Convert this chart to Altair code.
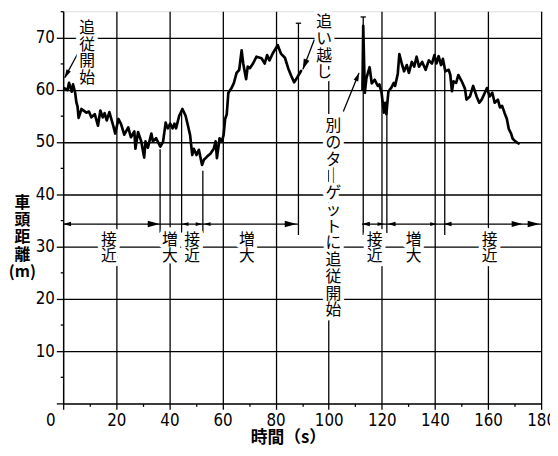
import altair as alt
import pandas as pd

# ---- data ----
# headway while following the first target (time s, distance m)
t1 = [0.4, 1.6, 2.2, 3.2, 3.7, 4.5, 5.0, 5.4, 5.8, 6.9, 8.7, 9.7, 10.6, 11.9, 13.1, 14.0,
      14.9, 15.6, 16.4, 17.4, 18.9, 19.6, 20.8, 21.8, 23.0, 24.5, 25.5, 26.8, 27.2, 28.2,
      29.4, 30.5, 31.0, 31.9, 33.2, 33.8, 35.0, 36.6, 37.6, 38.6, 39.4, 40.3, 41.2, 41.9,
      42.5, 43.7, 44.9, 46.1, 47.0, 47.8, 48.6, 49.2, 50.2, 51.1, 52.3, 53.0, 54.2, 55.5,
      56.7, 57.4, 57.9, 58.9, 59.8, 60.4, 61.0, 61.6, 62.2, 63.4, 64.3, 65.3, 66.3, 67.2,
      67.8, 68.9, 69.5, 70.3, 71.5, 72.8, 74.7, 75.9, 76.8, 77.7, 79.0, 80.8, 82.0, 83.5,
      84.8, 85.9, 87.0, 88.2, 88.9, 89.6]
d1 = [60.3, 59.9, 61.3, 59.6, 61.0, 59.4, 57.5, 56.8, 54.6, 56.3, 55.6, 55.8, 54.7, 55.3,
      53.1, 56.0, 54.7, 55.5, 54.1, 55.7, 53.0, 51.6, 54.4, 53.4, 51.4, 52.8, 50.9, 52.0,
      48.7, 51.9, 50.1, 47.0, 50.1, 48.9, 51.6, 50.1, 50.7, 49.1, 50.0, 53.7, 52.6, 53.5,
      52.6, 53.5, 52.6, 55.0, 56.3, 55.0, 53.1, 51.3, 47.5, 48.7, 47.5, 48.5, 45.6, 46.6,
      47.2, 47.8, 48.7, 50.1, 46.9, 50.7, 50.1, 51.3, 54.4, 55.3, 59.4, 60.3, 61.3, 63.2,
      63.8, 67.5, 65.0, 62.0, 64.4, 64.1, 65.0, 66.3, 66.0, 65.0, 66.6, 65.6, 67.0, 68.5,
      66.9, 66.1, 64.0, 62.6, 61.4, 62.4, 63.0, 63.6]

# headway after switching to the other target
t2 = [112.7, 113.0, 113.6, 114.2, 115.4, 116.2, 117.3, 118.5, 119.1, 119.9, 120.8, 121.3,
      121.7, 122.5, 123.6, 124.5, 125.0, 126.0, 126.6, 127.5, 128.4, 129.4, 130.2, 131.3,
      132.2, 133.1, 134.0, 135.2, 136.5, 137.7, 138.9, 139.8, 140.6, 141.4, 142.3, 143.0,
      143.9, 145.2, 145.8, 146.4, 147.0, 148.0, 148.8, 150.1, 151.3, 151.9, 153.2, 154.4,
      155.7, 156.7, 157.6, 158.8, 159.6, 160.6, 161.6, 162.5, 163.7, 164.5, 165.3, 166.2,
      167.1, 167.8, 168.7, 169.3, 170.3, 171.5]
d2 = [60.0, 72.2, 59.4, 62.2, 64.3, 61.2, 61.9, 60.7, 61.0, 59.4, 55.6, 57.5, 55.3, 59.7,
      60.4, 61.3, 60.7, 63.0, 66.8, 65.0, 63.5, 64.7, 63.2, 65.3, 64.4, 66.3, 64.4, 65.3,
      63.8, 65.6, 65.0, 66.6, 65.0, 66.4, 64.7, 65.9, 63.5, 63.8, 62.8, 59.7, 61.6, 61.3,
      62.8, 61.6, 60.2, 58.1, 58.7, 60.7, 58.7, 57.5, 58.1, 59.4, 60.3, 58.7, 59.4, 57.5,
      58.1, 56.6, 56.9, 55.6, 54.4, 52.5, 51.6, 50.6, 50.1, 49.7]

x_ticks = list(range(0, 181, 10))
y_ticks = list(range(0, 76, 5))

# text labels: position of the first (top) character
phase_text = ["接\n近", "増\n大", "接\n近", "増\n大", "接\n近", "増\n大", "接\n近"]
phase_t = [17.2, 40.2, 48.6, 69.2, 117.3, 132.0, 160.6]
phase_d = [31.3] * 7

note_text = ["追\n従\n開\n始", "追\nい\n越\nし",
             "別\nの\nタ\n｜\nゲ\nッ\nト\nに\n追\n従\n開\n始"]
note_t = [9.0, 98.3, 101.8]
note_d = [71.8, 72.9, 53.0]

boundary_t = [36.5, 44.6, 52.6, 88.6, 113.0, 121.9, 143.7]
boundary_top = [48.6, 56.1, 44.5, 72.7, 73.9, 55.8, 63.7]
boundary_bot = [32.6, 32.6, 32.6, 32.2, 32.2, 32.6, 32.2]

cap_t = [87.6, 112.0]
cap_t2 = [89.6, 114.0]
cap_d = [72.7, 73.9]

row_t = [0.0, 112.5]
row_t2 = [88.6, 180.0]
row_d = [34.3, 34.3]

call_t = [5.7, 94.6, 105.5]
call_d = [67.1, 69.6, 55.8]
call_t2 = [0.6, 90.3, 111.4]
call_d2 = [62.3, 63.9, 63.2]

head_t = [0.0, 36.3, 44.6, 52.5, 52.9, 87.9, 112.5, 121.0, 122.2, 140.8, 143.3, 173.0,
          179.4, 0.5, 90.2, 111.5]
head_d = [34.3] * 13 + [62.2, 63.8, 63.3]
head_ang = [180, 0, 180, 0, 180, 0, 180, 0, 180, 0, 180, 0, 0, 118, 111, 292]
head_sz = [64, 144, 49, 49, 49, 144, 64, 49, 64, 49, 64, 121, 144, 81, 121, 81]

# ---- chart ----
JP = "Noto Sans CJK JP"
NUM = "Liberation Sans Narrow, DejaVu Sans Condensed, Liberation Sans, sans-serif"

xscale = alt.Scale(domain=[0, 180], nice=False, zero=False)
yscale = alt.Scale(domain=[0, 75], nice=False, zero=False)

xaxis = alt.Axis(
    values=x_ticks,
    labelExpr="datum.value % 20 === 0 ? datum.label : ''",
    labelOffset={"condition": {"test": "datum.value === 0", "value": -13}, "value": 0},
    labelFlush=False, labelOverlap=False,
    labelFont=NUM, labelFontSize=17, labelColor="black", labelPadding=3,
    tickSize={"condition": {"test": "datum.value % 20 === 0", "value": 6}, "value": 3},
    tickColor="black", tickWidth=1.3,
    grid=True, gridColor="black", gridWidth=1.3,
    gridOpacity={"condition": {"test": "datum.value % 20 === 0 && datum.value > 0", "value": 1},
                 "value": 0},
    domainColor="black", domainWidth=1.5,
    title="時間（s）", titleFont=JP, titleFontSize=17, titleFontWeight="bold",
    titleColor="black", titleX=228, titleY=40, titleAlign="center",
    titleBaseline="alphabetic",
)
yaxis = alt.Axis(
    values=y_ticks,
    labelExpr="datum.value % 10 === 0 && datum.value > 0 ? datum.label : ''",
    labelOverlap=False, labelFlush=False,
    labelFont=NUM, labelFontSize=17, labelColor="black", labelPadding=2,
    tickSize={"condition": {"test": "datum.value % 10 === 0", "value": 7}, "value": 3},
    tickColor="black", tickWidth=1.3,
    grid=True, gridColor="black", gridWidth=1.3,
    gridOpacity={"condition": {"test": "datum.value % 10 === 0 && datum.value > 0 && datum.value < 75",
                               "value": 1}, "value": 0},
    domainColor="black", domainWidth=1.5,
    title=["車", "頭", "距", "離", "(m)"], titleAngle=0, titleFont=JP, titleFontSize=16,
    titleFontWeight="bold", titleColor="black", titleX=-42, titleY=194,
    titleAlign="center", titleBaseline="middle", titleLineHeight=17.5,
)

X = alt.X("t:Q", scale=xscale, axis=xaxis)
Y = alt.Y("d:Q", scale=yscale, axis=yaxis)

line_df = pd.DataFrame({"t": t1 + t2, "d": d1 + d2,
                        "seg": ["a"] * len(t1) + ["b"] * len(t2)})
bnd_df = pd.DataFrame({"t": boundary_t, "d": boundary_top, "d2": boundary_bot})
cap_df = pd.DataFrame({"t": cap_t, "t2": cap_t2, "d": cap_d})
row_df = pd.DataFrame({"t": row_t, "t2": row_t2, "d": row_d})
call_df = pd.DataFrame({"t": call_t, "d": call_d, "t2": call_t2, "d2": call_d2})
text_df = pd.DataFrame({"t": phase_t + note_t, "d": phase_d + note_d,
                        "label": phase_text + note_text})
head_df = pd.DataFrame({"t": head_t, "d": head_d, "ang": head_ang, "sz": head_sz})

bnd = alt.Chart(bnd_df).mark_rule(color="black", strokeWidth=1.3).encode(
    x=X, y=Y, y2=alt.Y2("d2:Q"))
caps = alt.Chart(cap_df).mark_rule(color="black", strokeWidth=1.3).encode(
    x=X, x2=alt.X2("t2:Q"), y=Y)
rows = alt.Chart(row_df).mark_rule(color="black", strokeWidth=1.3).encode(
    x=X, x2=alt.X2("t2:Q"), y=Y)
calls = alt.Chart(call_df).mark_rule(color="black", strokeWidth=1.3).encode(
    x=X, y=Y, x2=alt.X2("t2:Q"), y2=alt.Y2("d2:Q"))

halo = alt.Chart(text_df).mark_text(
    font=JP, fontSize=16, lineBreak="\n", lineHeight=17, align="center", baseline="middle",
    color="white", stroke="white", strokeWidth=8, strokeJoin="round",
).encode(x=X, y=Y, text="label:N")
texts = alt.Chart(text_df).mark_text(
    font=JP, fontSize=16, lineBreak="\n", lineHeight=17, align="center", baseline="middle",
    color="black",
).encode(x=X, y=Y, text="label:N")

curve = alt.Chart(line_df).mark_line(
    color="black", strokeWidth=2.7, strokeJoin="round", strokeCap="round"
).encode(x=X, y=Y, detail="seg:N", order="t:Q")

heads = alt.Chart(head_df).mark_point(
    shape="M0,0L-2,-0.55L-2,0.55Z", filled=True, color="black", opacity=1, strokeWidth=0
).encode(x=X, y=Y, angle=alt.Angle("ang:Q", scale=None), size=alt.Size("sz:Q", scale=None))

chart = alt.layer(bnd, caps, rows, calls, halo, texts, curve, heads).properties(
    width=485, height=398,
    padding={"left": 56, "top": 0, "right": 9, "bottom": 42},
    autosize="none",
).configure_view(stroke=None).configure(background="white")

chart.save("out.html", embed_options={"renderer": "svg", "actions": False})
